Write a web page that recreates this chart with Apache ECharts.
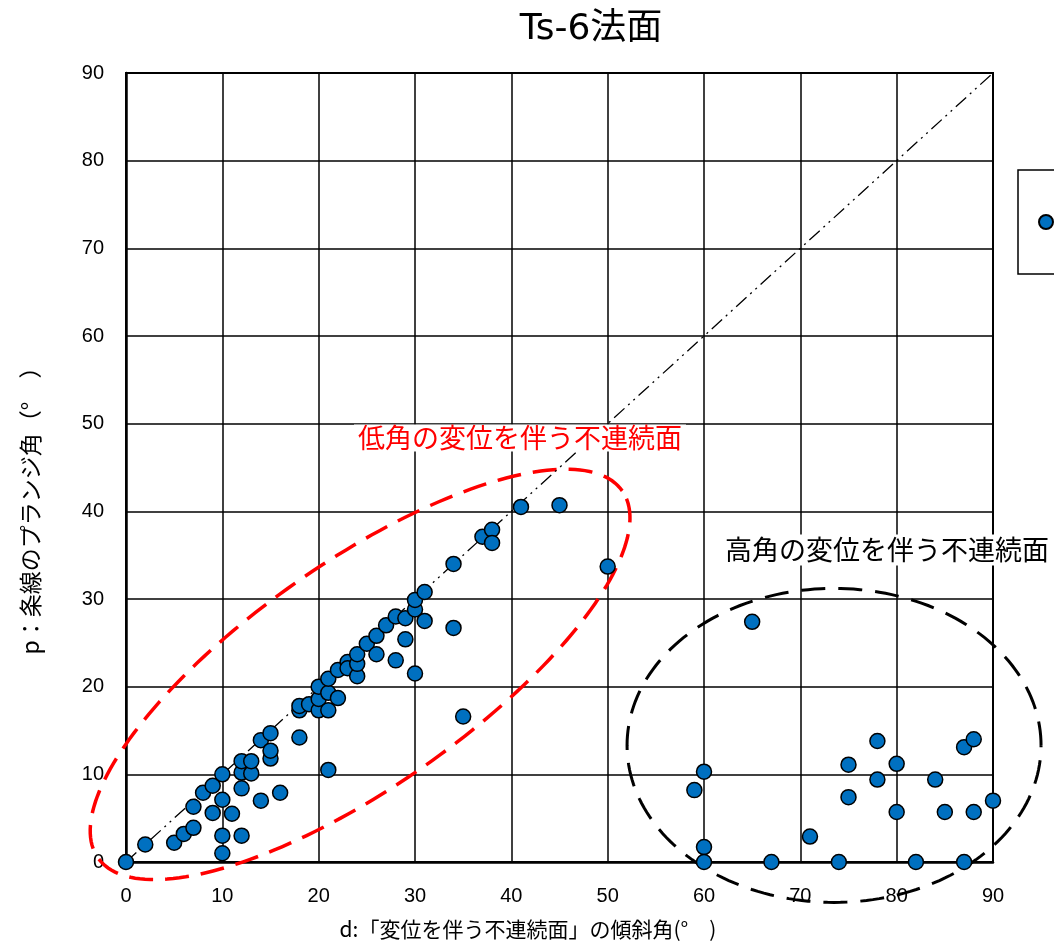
<!DOCTYPE html>
<html><head><meta charset="utf-8">
<script src="https://cdn.jsdelivr.net/npm/echarts@6/dist/echarts.min.js"></script>
<style>html,body{margin:0;padding:0;background:#fff}#c{width:1054px;height:947px}</style>
</head><body><div id="c"></div>
<script>
// ---- text ----
const titleText = 'Ts-6法面';
const seriesName = 'Ts-6法面';
const xAxisName = 'd:「変位を伴う不連続面」の傾斜角(°　)';
const yAxisName = 'p：条線のプランジ角（°　）';
const lowLabel = '低角の変位を伴う不連続面';
const highLabel = '高角の変位を伴う不連続面';

// ---- axes ----
const axisMin = 0, axisMax = 90, axisStep = 10;

// ---- data: d = dip of displaced discontinuity, p = plunge of striation ----
const dipD = [
  0, 2, 5, 6, 7, 7, 8, 9, 9, 10, 10, 10, 10, 11, 12, 12, 12, 12, 13, 13,
  14, 14, 15, 15, 15, 16, 18, 18, 18, 19, 20, 20, 20, 21, 21, 21, 21, 22, 22, 23,
  23, 24, 24, 24, 25, 26, 26, 27, 28, 28, 29, 29, 30, 30, 30, 31, 31, 34, 34, 35,
  37, 38, 38, 41, 45, 50,
  59, 60, 60, 60, 65, 67, 71, 74, 75, 75, 78, 78, 80, 80, 82, 84, 85, 87, 87, 88, 88, 90
];
const plungeP = [
  0, 2, 2.2, 3.2, 3.9, 6.3, 7.9, 8.7, 5.6, 10, 7.1, 3, 1, 5.5, 8.4, 3, 10.2, 11.5, 10.1, 11.5,
  7, 13.9, 11.8, 12.7, 14.7, 7.9, 14.2, 17.3, 17.8, 18, 17.3, 18.6, 20, 17.3, 19.3, 20.9, 10.5, 18.7, 21.9, 22.8,
  22.1, 21.2, 22.6, 23.7, 24.9, 25.8, 23.7, 27, 23, 28, 25.4, 27.8, 28.8, 29.9, 21.5, 30.8, 27.5, 34, 26.7, 16.6,
  37.1, 37.9, 36.4, 40.5, 40.7, 33.7,
  8.2, 10.3, 1.7, 0, 27.4, 0, 2.9, 0, 11.1, 7.4, 13.8, 9.4, 11.2, 5.7, 0, 9.4, 5.7, 13.1, 0, 14, 5.7, 7
];
const refLineD = [0, 90];
const refLineP = [0, 90];

// ---- annotation ellipses (centres in data units) ----
const ellipseCentreD = [24.3, 73.5];
const ellipseCentreP = [21.4, 13.3];

const points = dipD.map((d, i) => [d, plungeP[i]]);
const refLine = refLineD.map((d, i) => [d, refLineP[i]]);
const ellipseData = ellipseCentreD.map((d, i) => [d, ellipseCentreP[i]]);
const ellipseStyle = [
  { rx: 320, ry: 112, angle: 35, color: '#FF0000', width: 3.5, dash: [24, 12] },
  { rx: 207, ry: 157, angle: 0, color: '#000000', width: 3, dash: [24, 13] }
];

const fontLatin = '"Liberation Sans", "Noto Sans CJK JP", sans-serif';
const fontJP = '"Noto Sans CJK JP", "Noto Sans", sans-serif';

const chart = echarts.init(document.getElementById('c'), null, { renderer: 'canvas' });

function renderEllipse(params, api) {
  const s = ellipseStyle[params.dataIndex];
  const c = api.coord([api.value(0), api.value(1)]);
  const th = s.angle * Math.PI / 180;
  const pts = [];
  const n = 200;
  for (let i = 0; i <= n; i++) {
    const t = i / n * 2 * Math.PI;
    const ex = s.rx * Math.cos(t), ey = s.ry * Math.sin(t);
    pts.push([c[0] + ex * Math.cos(th) - ey * Math.sin(th),
              c[1] - (ex * Math.sin(th) + ey * Math.cos(th))]);
  }
  return {
    type: 'polyline',
    shape: { points: pts },
    style: { fill: 'none', stroke: s.color, lineWidth: s.width, lineDash: s.dash }
  };
}

const axisCommon = {
  type: 'value', min: axisMin, max: axisMax, interval: axisStep,
  axisLine: { show: true, onZero: false, lineStyle: { color: '#000', width: 2.5 } },
  axisTick: { show: false },
  splitLine: { show: true, lineStyle: { color: '#000', width: 1.5 } },
  axisLabel: { color: '#000', fontSize: 20, fontFamily: fontLatin, margin: 22 }
};

chart.setOption({
  animation: false,
  backgroundColor: '#fff',
  grid: { left: 126, right: 61, top: 73, bottom: 85, show: true, borderColor: '#000', borderWidth: 2, backgroundColor: 'transparent' },
  xAxis: Object.assign({}, axisCommon, { axisLabel: Object.assign({}, axisCommon.axisLabel, { margin: 24 }) }),
  yAxis: Object.assign({}, axisCommon),
  legend: {
    data: [{ name: seriesName, icon: 'circle' }],
    left: 1018, top: 170, orient: 'vertical',
    padding: [43, 10, 43, 20],
    itemWidth: 14, itemHeight: 14,
    borderColor: '#000', borderWidth: 1.5, borderRadius: 0,
    textStyle: { fontSize: 18, color: '#000', fontFamily: fontJP }
  },
  graphic: [
    { type: 'text', z: 100, x: 591, y: 30, style: { text: titleText, align: 'center', verticalAlign: 'middle', fill: '#000', font: '36px "DejaVu Sans", "Noto Sans CJK JP", sans-serif' } },
    { type: 'text', z: 100, x: 528, y: 929, style: { text: xAxisName, align: 'center', verticalAlign: 'middle', fill: '#000', font: '21px ' + fontJP } },
    { type: 'text', z: 100, x: 30, y: 505, rotation: Math.PI / 2, style: { text: yAxisName, align: 'center', verticalAlign: 'middle', fill: '#000', font: '23px ' + fontJP } },
    { type: 'text', z: 100, x: 520, y: 438, style: { text: lowLabel, align: 'center', verticalAlign: 'middle', fill: '#FF0000', font: '27px ' + fontJP, backgroundColor: '#fff', padding: [0, 4] } },
    { type: 'text', z: 100, x: 887, y: 550, style: { text: highLabel, align: 'center', verticalAlign: 'middle', fill: '#000', font: '27px ' + fontJP, backgroundColor: '#fff', padding: [2, 4] } }
  ],
  series: [
    {
      type: 'line', name: 'ref', data: refLine, symbol: 'none', silent: true, z: 2,
      lineStyle: { color: '#000', width: 1.3, type: [14, 5, 2, 5, 2, 5] }
    },
    {
      type: 'custom', name: 'ellipses', data: ellipseData, renderItem: renderEllipse, clip: false, silent: true, z: 2
    },
    {
      type: 'scatter', name: seriesName, data: points, symbol: 'circle', symbolSize: 15, z: 3,
      itemStyle: { color: '#0070C0', borderColor: '#000', borderWidth: 1.5, opacity: 1 }
    }
  ]
});
</script>
</body></html>
